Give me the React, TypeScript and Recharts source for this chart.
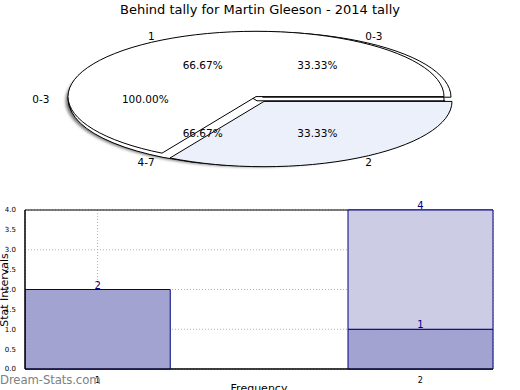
import React from "react";
import { PieChart, Pie, Cell, BarChart, Bar, XAxis, YAxis, CartesianGrid, LabelList, ReferenceArea } from "recharts";

// pie layers (matplotlib drew three pies on top of each other)
const outerRing = [{ name: "0-3", value: 3 }];
const middleRing = [
  { name: "0-3", value: 1 },
  { name: "4-7", value: 2 },
];
const topRing = [
  { name: "1", value: 2 },
  { name: "2", value: 1 },
];
const topFills = ["#ffffff", "#ebf0fb"];

// histogram
const freqs = [1, 2];
const lowerVals = [2, 1];
const upperVals = [0, 3];
const yTicks = [0, 0.5, 1, 1.5, 2, 2.5, 3, 3.5, 4];

const barData = freqs.map((f, i) => ({ freq: f, lower: lowerVals[i], upper: upperVals[i] }));

const FONT = "DejaVu Sans, sans-serif";
const K = 66 / 190; // vertical squash of the pie
const RAD = Math.PI / 180;

const pt = (cx: number, cy: number, r: number, a: number) => [cx + r * Math.cos(a * RAD), cy - r * K * Math.sin(a * RAD)];

const ellipseSector = (explode: number, shadow = false) => (props: any) => {
  const { cx, cy, outerRadius: r, startAngle, endAngle, fill } = props;
  const mid = (startAngle + endAngle) / 2;
  const x0 = cx + explode * Math.cos(mid * RAD);
  const y0 = cy - explode * K * Math.sin(mid * RAD);
  const span = Math.abs(endAngle - startAngle);
  let d = "";
  if (span >= 359.9) {
    d = `M${x0 + r},${y0} A${r},${r * K} 0 1 0 ${x0 - r},${y0} A${r},${r * K} 0 1 0 ${x0 + r},${y0} Z`;
  } else {
    const [sx, sy] = pt(x0, y0, r, startAngle);
    const [ex, ey] = pt(x0, y0, r, endAngle);
    d = `M${x0},${y0} L${sx},${sy} A${r},${r * K} 0 ${span > 180 ? 1 : 0} 0 ${ex},${ey} Z`;
  }
  return (
    <path
      d={d}
      fill={fill}
      stroke="#000"
      strokeWidth={1}
      style={shadow ? { filter: "drop-shadow(-2px 2px 1.5px rgba(0,0,0,0.55))" } : undefined}
    />
  );
};

const pieLabel = (props: any) => {
  const { cx, cy, midAngle, outerRadius: r, percent, payload } = props;
  const [nx, ny] = pt(cx, cy, r * 1.12, midAngle);
  const [px, py] = pt(cx, cy, r * 0.61, midAngle);
  const left = Math.cos(midAngle * RAD) < 0;
  return (
    <g>
      <text x={nx} y={ny} textAnchor={left ? "end" : "start"} dominantBaseline="central" fontSize={10.5} fontFamily={FONT} fill="#000">
        {payload.name}
      </text>
      <text x={px} y={py} textAnchor="middle" dominantBaseline="central" fontSize={10.5} fontFamily={FONT} fill="#000">
        {(percent * 100).toFixed(2)}%
      </text>
    </g>
  );
};

export default function App() {
  return (
    <div style={{ position: "absolute", left: 0, top: 0, width: 520, height: 390, background: "#fff", fontFamily: FONT, overflow: "hidden" }}>
      <div style={{ position: "absolute", left: 0, top: 2, width: 520, textAlign: "center", fontSize: 13, color: "#000" }}>
        Behind tally for Martin Gleeson - 2014 tally
      </div>

      <div style={{ position: "absolute", left: 0, top: 0 }}>
        <PieChart width={520} height={195} margin={{ top: 0, right: 0, bottom: 0, left: 0 }}>
          <Pie
            data={outerRing}
            dataKey="value"
            nameKey="name"
            cx={260}
            cy={99}
            outerRadius={188}
            startAngle={0}
            endAngle={360}
            shape={ellipseSector(4, true)}
            inactiveShape={ellipseSector(4, true)}
            activeShape={ellipseSector(4, true)}
            label={pieLabel}
            labelLine={false}
            isAnimationActive={false}
          >
            <Cell fill="#ffffff" />
          </Pie>
          <Pie
            data={middleRing}
            dataKey="value"
            nameKey="name"
            cx={260}
            cy={99}
            outerRadius={188}
            startAngle={0}
            endAngle={360}
            shape={ellipseSector(6)}
            inactiveShape={ellipseSector(6)}
            activeShape={ellipseSector(6)}
            label={pieLabel}
            labelLine={false}
            isAnimationActive={false}
          >
            {middleRing.map((d) => (
              <Cell key={d.name} fill="#ffffff" />
            ))}
          </Pie>
          <Pie
            data={topRing}
            dataKey="value"
            nameKey="name"
            cx={260}
            cy={99}
            outerRadius={188}
            startAngle={0}
            endAngle={360}
            shape={ellipseSector(8)}
            inactiveShape={ellipseSector(8)}
            activeShape={ellipseSector(8)}
            label={pieLabel}
            labelLine={false}
            isAnimationActive={false}
          >
            {topRing.map((d, i) => (
              <Cell key={d.name} fill={topFills[i]} />
            ))}
          </Pie>
        </PieChart>
      </div>

      <div style={{ position: "absolute", left: 0, top: 195 }}>
        <BarChart width={520} height={195} data={barData} margin={{ top: 15, right: 27, bottom: 0, left: 0 }}>
          <CartesianGrid strokeDasharray="1 2" stroke="#b0b0b0" />
          <XAxis
            type="number"
            dataKey="freq"
            domain={[0.775, 2.225]}
            ticks={freqs}
            allowDataOverflow
            height={21}
            tickLine={false}
            axisLine={{ stroke: "#000" }}
            tick={{ fontSize: 8, fill: "#000", fontFamily: FONT }}
            tickMargin={2}
          />
          <YAxis
            domain={[0, 4]}
            ticks={yTicks}
            width={25}
            tickFormatter={(v: number) => v.toFixed(1)}
            tickLine={false}
            axisLine={{ stroke: "#000" }}
            tick={{ fontSize: 7, fill: "#000", fontFamily: FONT }}
            tickMargin={3}
          />
          <Bar dataKey="lower" stackId="s" fill="#a3a3d1" stroke="#000080" strokeWidth={1} barSize={145} isAnimationActive={false}>
            <LabelList position="top" offset={1} fill="#000080" fontSize={10} fontFamily={FONT} />
          </Bar>
          <Bar dataKey="upper" stackId="s" fill="#ccccE5" stroke="#000080" strokeWidth={1} barSize={145} isAnimationActive={false}>
            <LabelList position="top" offset={1} fill="#000080" fontSize={10} fontFamily={FONT} />
          </Bar>
          <ReferenceArea x1={0.775} x2={2.225} y1={0} y2={4} fill="none" stroke="#000" strokeWidth={1} ifOverflow="visible" />
        </BarChart>
      </div>

      <div
        style={{
          position: "absolute",
          left: 4,
          top: 290,
          transform: "translate(-50%, -50%) rotate(-90deg)",
          fontSize: 11,
          whiteSpace: "nowrap",
          color: "#000",
        }}
      >
        Stat Intervals
      </div>
      <div style={{ position: "absolute", left: 0, top: 382, width: 518, textAlign: "center", fontSize: 11, color: "#000" }}>
        Frequency
      </div>
      <div style={{ position: "absolute", left: 0, top: 373, fontSize: 11.7, color: "#808080", letterSpacing: -0.1 }}>
        Dream-Stats.com
      </div>
    </div>
  );
}
